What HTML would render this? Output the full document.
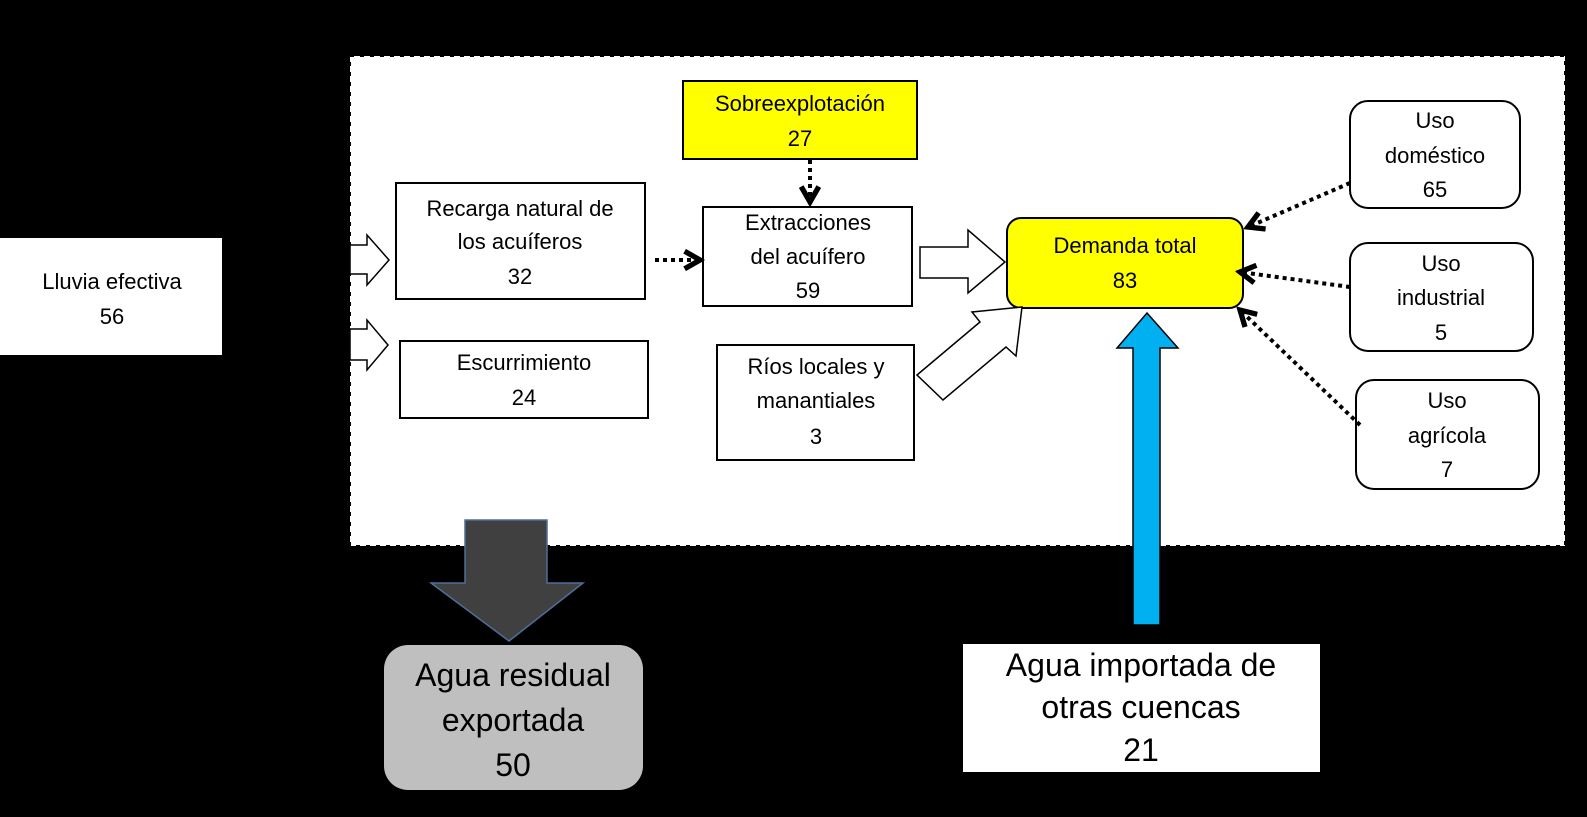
<!DOCTYPE html>
<html><head><meta charset="utf-8"><style>
html,body{margin:0;padding:0;background:#000;}
svg{display:block;font-family:"Liberation Sans",sans-serif;}
</style></head><body>
<svg width="1587" height="817" viewBox="0 0 1587 817" xmlns="http://www.w3.org/2000/svg">
<defs>
<marker id="ah" viewBox="0 0 10 10" refX="8" refY="5" markerWidth="5.5" markerHeight="5.5" orient="auto"><path d="M1,1 L8,5 L1,9" fill="none" stroke="#000" stroke-width="2.4"/></marker>
</defs>
<rect x="0" y="0" width="1587" height="817" fill="#000"/>
<rect x="350" y="56" width="1215" height="490" fill="#fff" stroke="#000" stroke-width="2" stroke-dasharray="4 6"/>
<g stroke="#000" stroke-width="2" font-size="22" text-anchor="middle">
<rect x="0" y="238" width="222" height="117" fill="#fff" stroke="none"/>
<rect x="683" y="81" width="234" height="78" fill="#ffff00"/>
<rect x="396" y="183" width="249" height="116" fill="#fff"/>
<rect x="703" y="207" width="209" height="99" fill="#fff"/>
<rect x="400" y="341" width="248" height="77" fill="#fff"/>
<rect x="717" y="345" width="197" height="115" fill="#fff"/>
<rect x="1007" y="218" width="236" height="90" rx="14" fill="#ffff00"/>
<rect x="1350" y="101" width="170" height="107" rx="18" fill="#fff"/>
<rect x="1350" y="243" width="183" height="108" rx="18" fill="#fff"/>
<rect x="1356" y="380" width="183" height="109" rx="18" fill="#fff"/>
<rect x="384" y="645" width="259" height="145" rx="24" fill="#bfbfbf" stroke="none"/>
<rect x="963" y="644" width="357" height="128" fill="#fff" stroke="none"/>
</g>
<g fill="#fff" stroke="#000" stroke-width="1.5">
<polygon points="350,245 367,245 367,235 389,260 367,285 367,274 350,274"/>
<polygon points="350,329 367,329 367,320 388,345 367,370 367,360 350,360"/>
<polygon points="920,247 968,247 968,230 1005,262 968,293 968,278 920,278"/>
<polygon points="917,375 980,322 972,312 1022,307 1016,356 1006,347 943,400"/>
</g>
<polygon points="465,520 547,520 547,583 583,583 509,641 431,583 465,583" fill="#404040" stroke="#4f6f99" stroke-width="1.5"/>
<polygon points="1133,625 1133,348 1117,348 1147,313 1178,348 1160,348 1160,625" fill="#00b0f0" stroke="#000" stroke-width="1.5"/>
<g stroke="#000" stroke-width="4" stroke-dasharray="4 4" fill="none" marker-end="url(#ah)">
<line x1="810" y1="160" x2="810" y2="202"/>
<line x1="655" y1="260" x2="700" y2="260"/>
<line x1="1350" y1="183" x2="1248" y2="227"/>
<line x1="1350" y1="287" x2="1240" y2="272"/>
<line x1="1360" y1="425" x2="1240" y2="310"/>
</g>
<g font-size="22" text-anchor="middle" fill="#000">
<text x="112" y="289">Lluvia efectiva</text><text x="112" y="324">56</text>
<text x="800" y="111">Sobreexplotación</text><text x="800" y="146">27</text>
<text x="520" y="216">Recarga natural de</text><text x="520" y="249">los acuíferos</text><text x="520" y="284">32</text>
<text x="808" y="230">Extracciones</text><text x="808" y="264">del acuífero</text><text x="808" y="298">59</text>
<text x="524" y="370">Escurrimiento</text><text x="524" y="405">24</text>
<text x="816" y="374">Ríos locales y</text><text x="816" y="408">manantiales</text><text x="816" y="444">3</text>
<text x="1125" y="253">Demanda total</text><text x="1125" y="288">83</text>
<text x="1435" y="128">Uso</text><text x="1435" y="163">doméstico</text><text x="1435" y="197">65</text>
<text x="1441" y="271">Uso</text><text x="1441" y="305">industrial</text><text x="1441" y="340">5</text>
<text x="1447" y="408">Uso</text><text x="1447" y="443">agrícola</text><text x="1447" y="477">7</text>
</g>
<g font-size="32" text-anchor="middle" fill="#000">
<text x="513" y="686">Agua residual</text><text x="513" y="731">exportada</text><text x="513" y="776">50</text>
<text x="1141" y="676">Agua importada de</text><text x="1141" y="718">otras cuencas</text><text x="1141" y="761">21</text>
</g>
</svg>
</body></html>
